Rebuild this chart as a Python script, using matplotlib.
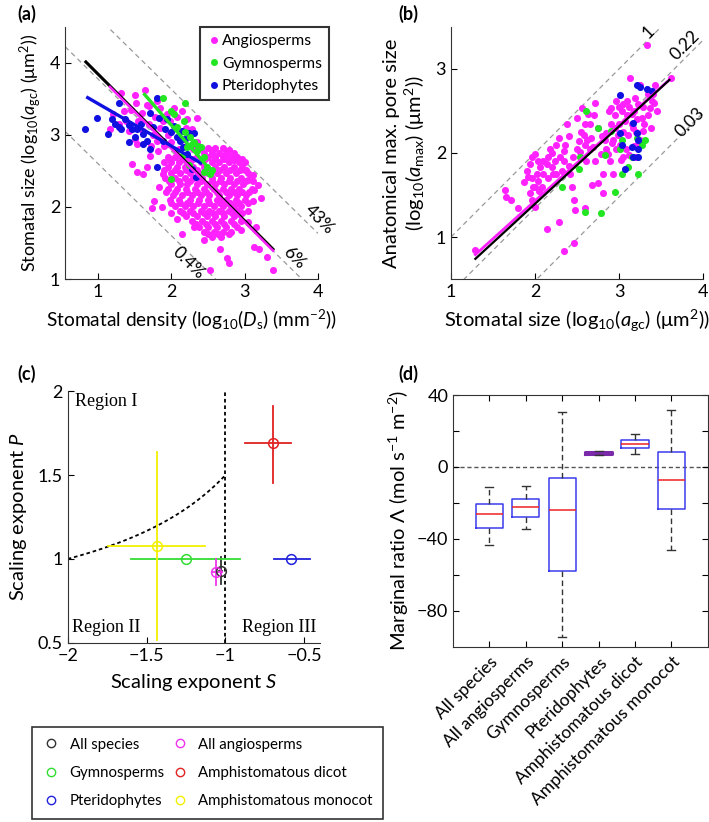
import matplotlib
matplotlib.use('Agg')
import matplotlib.pyplot as plt
import numpy as np
from matplotlib.lines import Line2D

FONT = 'Lato'
plt.rcParams['font.family'] = [FONT, 'DejaVu Sans']
plt.rcParams['mathtext.fontset'] = 'custom'
plt.rcParams['mathtext.rm'] = FONT
plt.rcParams['mathtext.it'] = FONT + ':italic'
plt.rcParams['mathtext.bf'] = FONT + ':bold'
plt.rcParams['axes.unicode_minus'] = True

MAG = '#ff22ff'
GRN = '#22e622'
BLU = '#1010e0'

# ---------------- Panel (a) data: log10 Ds vs log10 agc ----------------
# dense angiosperm cloud, rows of (y, [x...])
ang_a_rows = [
    (2.82, [2.40, 2.50, 2.60, 2.70]),
    (2.79, [2.35, 2.55, 2.78]),
    (2.75, [2.45, 2.55, 2.65, 2.75, 2.85]),
    (2.70, [1.95, 2.05, 2.20, 2.35, 2.50, 2.60, 2.70, 2.80, 2.90]),
    (2.66, [1.98, 2.15, 2.30, 2.46, 2.60, 2.72, 2.86, 2.96]),
    (2.62, [1.90, 2.00, 2.10, 2.25, 2.40, 2.55, 2.65, 2.78, 2.92, 3.00]),
    (2.55, [1.95, 2.08, 2.18, 2.30, 2.45, 2.60, 2.72, 2.85, 2.97]),
    (2.51, [1.90, 2.05, 2.20, 2.35, 2.52, 2.67, 2.80, 2.93, 3.02]),
    (2.47, [2.00, 2.12, 2.25, 2.38, 2.50, 2.62, 2.75, 2.88, 3.05]),
    (2.40, [1.92, 2.05, 2.18, 2.30, 2.42, 2.55, 2.68, 2.80, 2.95, 3.08]),
    (2.36, [1.97, 2.10, 2.26, 2.40, 2.55, 2.66, 2.78, 2.90, 3.02, 3.12]),
    (2.32, [2.00, 2.12, 2.22, 2.35, 2.48, 2.60, 2.72, 2.85, 2.98]),
    (2.25, [1.95, 2.08, 2.20, 2.32, 2.45, 2.58, 2.70, 2.82, 2.92, 3.10]),
    (2.21, [1.93, 2.05, 2.22, 2.35, 2.47, 2.62, 2.74, 2.86, 2.97, 3.06]),
    (2.17, [2.02, 2.15, 2.28, 2.40, 2.52, 2.65, 2.78, 2.90, 3.02]),
    (2.10, [1.98, 2.10, 2.25, 2.38, 2.50, 2.62, 2.75, 2.88, 3.00]),
    (2.06, [2.00, 2.12, 2.24, 2.36, 2.52, 2.66, 2.80, 2.92, 3.04]),
    (2.02, [2.05, 2.18, 2.30, 2.45, 2.58, 2.70, 2.85, 2.95]),
    (1.95, [2.12, 2.25, 2.40, 2.52, 2.65, 2.78, 2.90, 3.05]),
    (1.91, [2.16, 2.30, 2.44, 2.57, 2.70, 2.83, 2.97]),
    (1.87, [2.20, 2.35, 2.48, 2.60, 2.72, 2.85]),
    (1.80, [2.28, 2.42, 2.55, 2.68, 2.82, 2.95]),
    (1.76, [2.33, 2.47, 2.60, 2.72, 2.86]),
    (1.72, [2.38, 2.50, 2.62, 2.75, 2.90]),
    (1.65, [2.45, 2.58, 2.70, 2.82]),
    (1.62, [2.50, 2.64, 2.78]),
    (1.58, [2.55, 2.68]),
]
ang_a_extra_x = [1.32, 1.51, 1.64, 1.52, 1.67, 1.80, 1.85, 1.94, 2.03, 2.15, 2.21, 2.28, 2.35,
                 1.21, 1.35, 1.16, 1.53, 1.47, 1.53, 1.62, 1.67, 1.71, 1.74, 1.76, 1.83, 1.87,
                 1.89, 1.99, 2.08, 2.15, 2.21, 2.31, 2.44, 2.53, 2.67, 2.79, 2.76, 2.95, 3.13,
                 3.20, 3.39, 3.31, 3.15, 3.04, 3.11, 3.13, 3.04, 3.01, 2.85, 2.81,
                 1.55, 1.62, 1.70, 1.75, 1.80, 1.85, 1.90, 1.95, 2.00, 2.05, 2.10, 2.15, 2.20,
                 2.25, 2.30, 2.35, 1.72, 1.82, 1.42, 1.50, 1.28, 1.38, 1.45, 1.60, 1.70, 1.78,
                 1.88, 1.98, 2.08, 2.12, 2.20, 3.18, 3.22, 3.12]
ang_a_extra_y = [3.59, 3.56, 3.62, 3.45, 3.41, 3.47, 3.38, 3.29, 3.38, 3.34, 3.22, 3.08, 3.24,
                 3.29, 3.34, 3.08, 2.88, 2.60, 2.49, 2.46, 2.55, 2.71, 1.98, 2.09, 2.28, 2.00,
                 2.46, 1.91, 1.84, 1.63, 2.05, 1.72, 1.54, 1.12, 1.42, 1.22, 1.29, 1.68, 1.45,
                 1.42, 1.12, 1.31, 1.72, 1.79, 2.09, 2.23, 2.37, 2.51, 2.65, 2.69,
                 3.20, 3.05, 3.15, 3.00, 2.92, 3.10, 2.85, 3.00, 2.90, 3.10, 2.80, 2.95, 2.85,
                 3.00, 2.80, 2.90, 2.85, 2.78, 3.05, 2.95, 3.15, 3.20, 3.35, 3.30, 3.40, 3.25,
                 3.20, 3.20, 3.25, 3.05, 3.10, 2.30, 2.12, 2.45]
pter_a_x = [0.82, 0.98, 1.14, 1.19, 1.28, 1.32, 1.37, 1.42, 1.46, 1.42, 1.51, 1.58, 1.62, 1.67,
            1.71, 1.75, 1.80, 1.83, 1.89, 1.92, 1.80, 1.94, 1.99, 2.03, 2.08, 2.15, 2.16, 2.19,
            2.24, 2.31, 2.33, 2.21, 2.28, 2.12, 1.71, 1.62, 1.53, 1.28, 1.23]
pter_a_y = [3.09, 3.24, 3.01, 3.22, 3.45, 3.08, 3.22, 3.14, 3.08, 2.90, 2.97, 3.15, 3.01, 2.92,
            3.31, 3.11, 3.52, 3.24, 2.92, 3.08, 2.55, 3.22, 3.04, 3.13, 2.97, 3.06, 2.83, 2.94,
            3.03, 3.03, 2.41, 2.74, 2.53, 2.92, 2.81, 2.88, 3.08, 3.11, 3.15]
gymn_a_x = [1.88, 2.19, 1.99, 2.03, 2.17, 2.08, 2.19, 2.26, 2.31, 2.37, 2.35, 2.40, 2.44, 2.49,
            2.56, 2.53, 2.24, 2.15, 1.99, 2.28, 2.21, 2.44]
gymn_a_y = [3.52, 3.45, 3.34, 3.29, 3.20, 3.11, 3.04, 2.97, 2.90, 2.85, 2.78, 2.83, 2.69, 2.55,
            2.51, 2.46, 2.58, 2.71, 2.39, 2.88, 2.83, 2.48]
# fitted lines (endpoints)
fit_a_all = ([0.82, 3.40], [4.03, 1.40])
fit_a_ang = ([1.15, 3.40], [3.68, 1.38])
fit_a_pter = ([0.84, 2.42], [3.53, 2.60])
fit_a_gymn = ([1.62, 2.58], [3.58, 2.46])
# iso-lines of stomatal area fraction
frac_labels = ['43%', '6%', '0.4%']
frac_values = [0.43, 0.06, 0.004]

# ---------------- Panel (b) data: log10 agc vs log10 amax ----------------
ang_b_x = [1.29, 1.64, 1.66, 1.72, 1.80, 1.87, 1.90, 1.92, 1.94, 1.96, 2.00, 1.94, 1.96, 1.98,
           2.00, 2.02, 2.04, 2.06, 2.08, 2.10, 2.14, 2.16, 2.18, 2.20, 2.22, 2.24, 2.28, 2.30,
           2.32, 2.34, 2.36, 2.38, 2.40, 2.42, 2.44, 2.46, 2.48, 2.50, 2.52, 2.54, 2.56, 2.58,
           2.60, 2.61, 2.63, 2.65, 2.67, 2.69, 2.71, 2.75, 2.79, 2.81, 2.83, 2.85, 2.87, 2.89,
           2.91, 2.93, 2.95, 2.97, 2.99, 3.01, 3.03, 3.05, 3.07, 3.09, 3.11, 3.13, 3.15, 3.17,
           3.19, 3.21, 3.23, 3.25, 3.27, 3.29, 3.33, 3.35, 3.37, 3.39, 3.43, 3.45, 3.62,
           2.14, 2.28, 2.34, 2.47, 2.60, 2.68, 2.81, 2.93,
           2.90, 2.95, 3.00, 3.05, 3.10, 3.12, 3.15, 3.20, 3.22, 3.25, 3.30, 3.35, 3.28, 3.18,
           3.05, 3.00, 2.92, 2.97, 3.02, 3.08, 3.12, 3.18, 3.20, 2.85, 2.80, 2.75, 2.70, 2.60,
           2.55, 2.50, 2.45, 2.40, 2.35, 2.25, 2.20, 2.15, 2.10, 2.05, 2.00, 1.97, 2.03, 2.25,
           2.62, 2.65, 2.72, 2.88, 3.38, 3.42, 3.40]
ang_b_y = [0.84, 1.56, 1.48, 1.44, 1.34, 1.65, 1.79, 1.71, 1.87, 1.95, 1.99, 1.52, 1.44, 1.60,
           1.36, 1.75, 1.67, 1.83, 1.60, 1.91, 1.87, 1.95, 2.05, 1.83, 1.75, 1.91, 2.18, 1.95,
           1.79, 2.02, 2.10, 2.34, 1.85, 1.75, 1.60, 1.44, 1.32, 2.42, 2.14, 2.01, 2.54, 2.22,
           2.10, 1.91, 2.46, 2.34, 2.18, 2.07, 1.91, 1.64, 1.99, 1.75, 2.15, 2.24, 1.99, 1.91,
           2.54, 2.15, 2.30, 2.62, 2.22, 2.10, 2.50, 1.95, 2.38, 2.62, 2.22, 2.89, 2.46, 2.30,
           2.66, 2.10, 2.58, 2.81, 2.42, 2.26, 3.28, 2.70, 2.54, 2.62, 2.81, 2.50, 2.89,
           1.09, 1.18, 0.83, 0.93, 1.34, 1.62, 1.52, 1.75,
           2.35, 2.45, 2.35, 2.25, 2.45, 2.55, 2.35, 2.25, 2.40, 2.15, 2.35, 2.45, 2.55, 2.50,
           2.58, 2.55, 2.12, 2.05, 1.92, 2.05, 1.98, 2.08, 1.95, 2.05, 2.20, 2.30, 2.45, 2.35,
           2.25, 2.05, 1.95, 2.20, 1.90, 1.75, 2.00, 1.70, 1.75, 1.55, 1.60, 1.70, 1.90, 2.10,
           2.15, 2.05, 2.60, 2.50, 2.30, 2.60, 2.70]
gymn_b_x = [2.61, 2.52, 2.32, 2.54, 2.83, 2.91, 3.03, 3.01, 3.03, 2.95, 2.60, 2.79, 3.23, 3.31,
            3.21, 3.27, 3.11, 3.15, 2.75]
gymn_b_y = [2.50, 1.81, 1.60, 1.95, 1.98, 2.26, 2.16, 2.05, 1.75, 1.54, 1.30, 1.28, 1.75, 2.16,
            2.18, 2.10, 1.83, 1.95, 2.30]
pter_b_x = [3.01, 3.21, 3.25, 3.33, 3.39, 3.01, 3.17, 3.21, 3.23, 3.15, 3.23, 3.17, 3.23, 3.07, 3.03]
pter_b_y = [2.69, 2.81, 2.79, 2.76, 2.74, 2.24, 2.36, 2.24, 2.16, 2.07, 2.05, 1.95, 1.95, 1.81, 2.09]
fit_b_ang = ([1.29, 3.63], [0.79, 2.90])
fit_b_all = ([1.29, 3.60], [0.74, 2.87])
ratio_labels = ['1', '0.22', '0.03']
ratio_values = [1.0, 0.22, 0.03]

# ---------------- Panel (c) data: scaling exponents ----------------
groups_c = ['All species', 'Gymnosperms', 'Pteridophytes',
            'All angiosperms', 'Amphistomatous dicot', 'Amphistomatous monocot']
colors_c = ['#333333', '#33dd33', '#2222dd', '#ee33ee', '#e02222', '#f2f000']
S_val = [-1.03, -1.247, -0.582, -1.06, -0.70, -1.433]
S_lo = [-1.04, -1.60, -0.694, -1.08, -0.873, -1.743]
S_hi = [-1.02, -0.905, -0.466, -1.02, -0.587, -1.131]
P_val = [0.93, 1.00, 1.00, 0.92, 1.69, 1.074]
P_lo = [0.85, 1.00, 1.00, 0.845, 1.45, 0.516]
P_hi = [1.01, 1.00, 1.00, 1.00, 1.915, 1.64]

# ---------------- Panel (d) data: marginal ratio boxplots ----------------
groups_d = ['All species', 'All angiosperms', 'Gymnosperms', 'Pteridophytes',
            'Amphistomatous dicot', 'Amphistomatous monocot']
whislo_d = [-43.5, -34.7, -94.6, 6.5, 7.2, -46.2]
q1_d = [-33.8, -27.7, -57.7, 7.2, 10.3, -23.4]
med_d = [-26.0, -22.3, -24.2, 7.8, 12.6, -7.5]
q3_d = [-20.6, -17.9, -6.3, 8.5, 14.8, 8.5]
whishi_d = [-11.0, -10.6, 30.7, 9.0, 18.1, 31.7]

# =====================================================================
fig = plt.figure(figsize=(7.09, 8.22), dpi=100)
W, H = 709.0, 822.0


def axrect(l, t, r, b):
    return [l / W, 1 - b / H, (r - l) / W, (b - t) / H]


TICK_FS = 13
LAB_FS = 14.5

# ---- (a)
ax = fig.add_axes(axrect(65, 27, 318, 279))
ang_x = [x for (y, xs) in ang_a_rows for x in xs] + ang_a_extra_x
ang_y = [y for (y, xs) in ang_a_rows for x in xs] + ang_a_extra_y
xx = np.array([0.55, 4.0])
for fv in frac_values:
    c = np.log10(fv * 1e6)
    ax.plot(xx, c - xx, color='#999999', lw=0.9, ls=(0, (4, 3)), zorder=1)
ax.scatter(ang_x, ang_y, s=26, color=MAG, linewidths=0, zorder=2)
ax.scatter(pter_a_x, pter_a_y, s=26, color=BLU, linewidths=0, zorder=3)
ax.scatter(gymn_a_x, gymn_a_y, s=26, color=GRN, linewidths=0, zorder=3)
ax.plot(*fit_a_all, color='black', lw=2.2, zorder=4, solid_capstyle='butt')
ax.plot(*fit_a_ang, color=MAG, lw=1.8, zorder=5, solid_capstyle='butt')
ax.plot(*fit_a_pter, color=BLU, lw=2.4, zorder=5, solid_capstyle='butt')
ax.plot(*fit_a_gymn, color=GRN, lw=2.4, zorder=5, solid_capstyle='butt')
ax.set_xlim(0.55, 4.0)
ax.set_ylim(1.0, 4.5)
ax.set_xticks([1, 2, 3, 4])
ax.set_yticks([1, 2, 3, 4])
ax.tick_params(direction='in', labelsize=TICK_FS, length=4)
for sp in ['top', 'right']:
    ax.spines[sp].set_visible(False)
for sp in ['left', 'bottom']:
    ax.spines[sp].set_color('#333333')
ax.set_xlabel(r'Stomatal density (log$_{10}$($D_{\mathrm{s}}$) (mm$^{-2}$))', fontsize=13.8, labelpad=6)
ax.set_ylabel(r'Stomatal size (log$_{10}$($a_{\mathrm{gc}}$) ($\mathrm{\mu}$m$^{2}$))', fontsize=13.0, labelpad=5)
for lab, (tx, ty) in zip(frac_labels, [(4.02, 1.82), (3.68, 1.29), (2.24, 1.22)]):
    ax.text(tx, ty, lab, rotation=-45, ha='center', va='center', fontsize=12.5, clip_on=False)
leg_handles = [Line2D([], [], marker='o', ls='none', color=c, markersize=4)
               for c in [MAG, GRN, BLU]]
leg = ax.legend(leg_handles, ['Angiosperms', 'Gymnosperms', 'Pteridophytes'],
                loc='upper right', bbox_to_anchor=(329 / W, 1 - 27 / H), bbox_transform=fig.transFigure,
                fontsize=11.3, frameon=True, fancybox=False, handletextpad=0.05, borderpad=0.45,
                labelspacing=0.55, handlelength=0.9, borderaxespad=0)
leg.get_frame().set_edgecolor('black')
leg.get_frame().set_linewidth(1.5)
fig.text(17 / W, 1 - 14 / H, '(a)', fontsize=13, fontweight='bold', va='center')

# ---- (b)
ax = fig.add_axes(axrect(451, 27, 703, 279))
xx = np.array([1.0, 4.0])
for rv in ratio_values:
    ax.plot(xx, xx + np.log10(rv), color='#999999', lw=0.9, ls=(0, (4, 3)), zorder=1)
ax.scatter(ang_b_x, ang_b_y, s=26, color=MAG, linewidths=0, zorder=2)
ax.scatter(gymn_b_x, gymn_b_y, s=26, color=GRN, linewidths=0, zorder=3)
ax.scatter(pter_b_x, pter_b_y, s=26, color=BLU, linewidths=0, zorder=3)
ax.plot(*fit_b_ang, color=MAG, lw=2.0, zorder=4)
ax.plot(*fit_b_all, color='black', lw=1.6, zorder=5)
ax.set_xlim(1.0, 4.0)
ax.set_ylim(0.5, 3.5)
ax.set_xticks([1, 2, 3, 4])
ax.set_yticks([1, 2, 3])
ax.tick_params(direction='in', labelsize=TICK_FS, length=4)
for sp in ['top', 'right']:
    ax.spines[sp].set_visible(False)
for sp in ['left', 'bottom']:
    ax.spines[sp].set_color('#333333')
ax.set_xlabel(r'Stomatal size (log$_{10}$($a_{\mathrm{gc}}$) ($\mathrm{\mu}$m$^{2}$))', fontsize=LAB_FS, labelpad=6)
ax.set_ylabel('Anatomical max. pore size\n' + r'(log$_{10}$($a_{\mathrm{max}}$) ($\mathrm{\mu}$m$^{2}$))',
              fontsize=LAB_FS, labelpad=6, linespacing=1.15)
for lab, (tx, ty) in zip(ratio_labels, [(3.35, 3.44), (3.79, 3.28), (3.85, 2.36)]):
    ax.text(tx, ty, lab, rotation=45, ha='center', va='center', fontsize=12.5, clip_on=False)
fig.text(398 / W, 1 - 14 / H, '(b)', fontsize=13, fontweight='bold', va='center')

# ---- (c)
ax = fig.add_axes(axrect(67.7, 391.3, 320, 642.7))
Sb = np.linspace(-2, -1, 60)
ax.plot(Sb, 0.5 - 1.0 / Sb, color='black', lw=1.3, ls=(0, (2, 1.6)))
ax.plot([-1, -1], [0.5, 2.0], color='black', lw=1.3, ls=(0, (2, 1.6)))
for i in range(len(groups_c)):
    col = colors_c[i]
    ax.plot([S_lo[i], S_hi[i]], [P_val[i], P_val[i]], color=col, lw=1.3, zorder=3)
    ax.plot([S_val[i], S_val[i]], [P_lo[i], P_hi[i]], color=col, lw=1.3, zorder=3)
    ax.plot([S_val[i]], [P_val[i]], marker='o', ms=7, mfc='none', mec=col, mew=1.1, ls='none', zorder=4)
ax.set_xlim(-2.0, -0.4)
ax.set_ylim(0.5, 2.0)
ax.set_xticks([-2, -1.5, -1, -0.5])
ax.set_xticklabels(['\u22122', '\u22121.5', '\u22121', '\u22120.5'])
ax.set_yticks([0.5, 1, 1.5, 2])
ax.set_yticklabels(['0.5', '1', '1.5', '2'])
ax.tick_params(direction='in', labelsize=TICK_FS, length=4)
for sp in ['top', 'right']:
    ax.spines[sp].set_visible(False)
for sp in ['left', 'bottom']:
    ax.spines[sp].set_color('#333333')
serif = ['Liberation Serif', 'DejaVu Serif']
ax.text(-1.955, 1.94, 'Region I', family=serif, fontsize=13, va='center', ha='left')
ax.text(-1.975, 0.59, 'Region II', family=serif, fontsize=13, va='center', ha='left')
ax.text(-0.424, 0.59, 'Region III', family=serif, fontsize=13, va='center', ha='right')
ax.set_xlabel(r'Scaling exponent $S$', fontsize=LAB_FS, labelpad=6)
ax.set_ylabel(r'Scaling exponent $P$', fontsize=LAB_FS, labelpad=6)
fig.text(17 / W, 1 - 374 / H, '(c)', fontsize=13, fontweight='bold', va='center')

handles_c = [Line2D([], [], marker='o', ls='none', mfc='none', mec=c, mew=1.0, markersize=6)
             for c in colors_c]
legc = fig.legend(handles_c, groups_c, ncol=2, loc='upper left',
                  bbox_to_anchor=(32 / W, 1 - 727 / H), fontsize=10.8, frameon=True, fancybox=False,
                  borderaxespad=0, handlelength=1.1, handletextpad=0.7, columnspacing=0.45,
                  labelspacing=0.95, borderpad=0.7)
legc.get_frame().set_edgecolor('black')
legc.get_frame().set_linewidth(1.2)

# ---- (d)
ax = fig.add_axes(axrect(453, 395, 707.7, 646.7))
stats = []
for i, g in enumerate(groups_d):
    stats.append(dict(label=g, whislo=whislo_d[i], q1=q1_d[i], med=med_d[i], q3=q3_d[i],
                      whishi=whishi_d[i], fliers=[]))
ax.axhline(0, color='#555555', lw=1.0, ls=(0, (3, 2)), zorder=1)
bp = ax.bxp(stats, positions=np.arange(1, 7), widths=0.75, showfliers=False, capwidths=0.22,
            boxprops=dict(color='#3a3aee', lw=1.1),
            medianprops=dict(color='#ee2222', lw=1.1),
            whiskerprops=dict(color='#333333', lw=1.0, ls=(0, (4, 2.5))),
            capprops=dict(color='#333333', lw=1.0))
# tiny pteridophyte box looks purple in the original
bp['boxes'][3].set_color('#7a2aa8')
bp['boxes'][3].set_linewidth(2.2)
bp['medians'][3].set_color('#7a2aa8')
ax.set_xlim(0, 7)
ax.set_ylim(-100, 40)
ax.set_yticks([-80, -60, -40, -20, 0, 20, 40])
ax.set_yticklabels(['\u221280', '', '\u221240', '', '0', '', '40'])
ax.set_xticks(np.arange(1, 7))
ax.set_xticklabels(groups_d, rotation=45, ha='right', rotation_mode='anchor')
ax.tick_params(direction='in', labelsize=TICK_FS, length=4, top=True, right=True)
ax.tick_params(axis='x', labelsize=12.5, pad=5)
for sp in ax.spines.values():
    sp.set_color('#333333')
ax.set_ylabel(r'Marginal ratio $\Lambda$ (mol s$^{-1}$ m$^{-2}$)', fontsize=LAB_FS, labelpad=4)
fig.text(398 / W, 1 - 374 / H, '(d)', fontsize=13, fontweight='bold', va='center')

fig.savefig('out.png', dpi=100)
